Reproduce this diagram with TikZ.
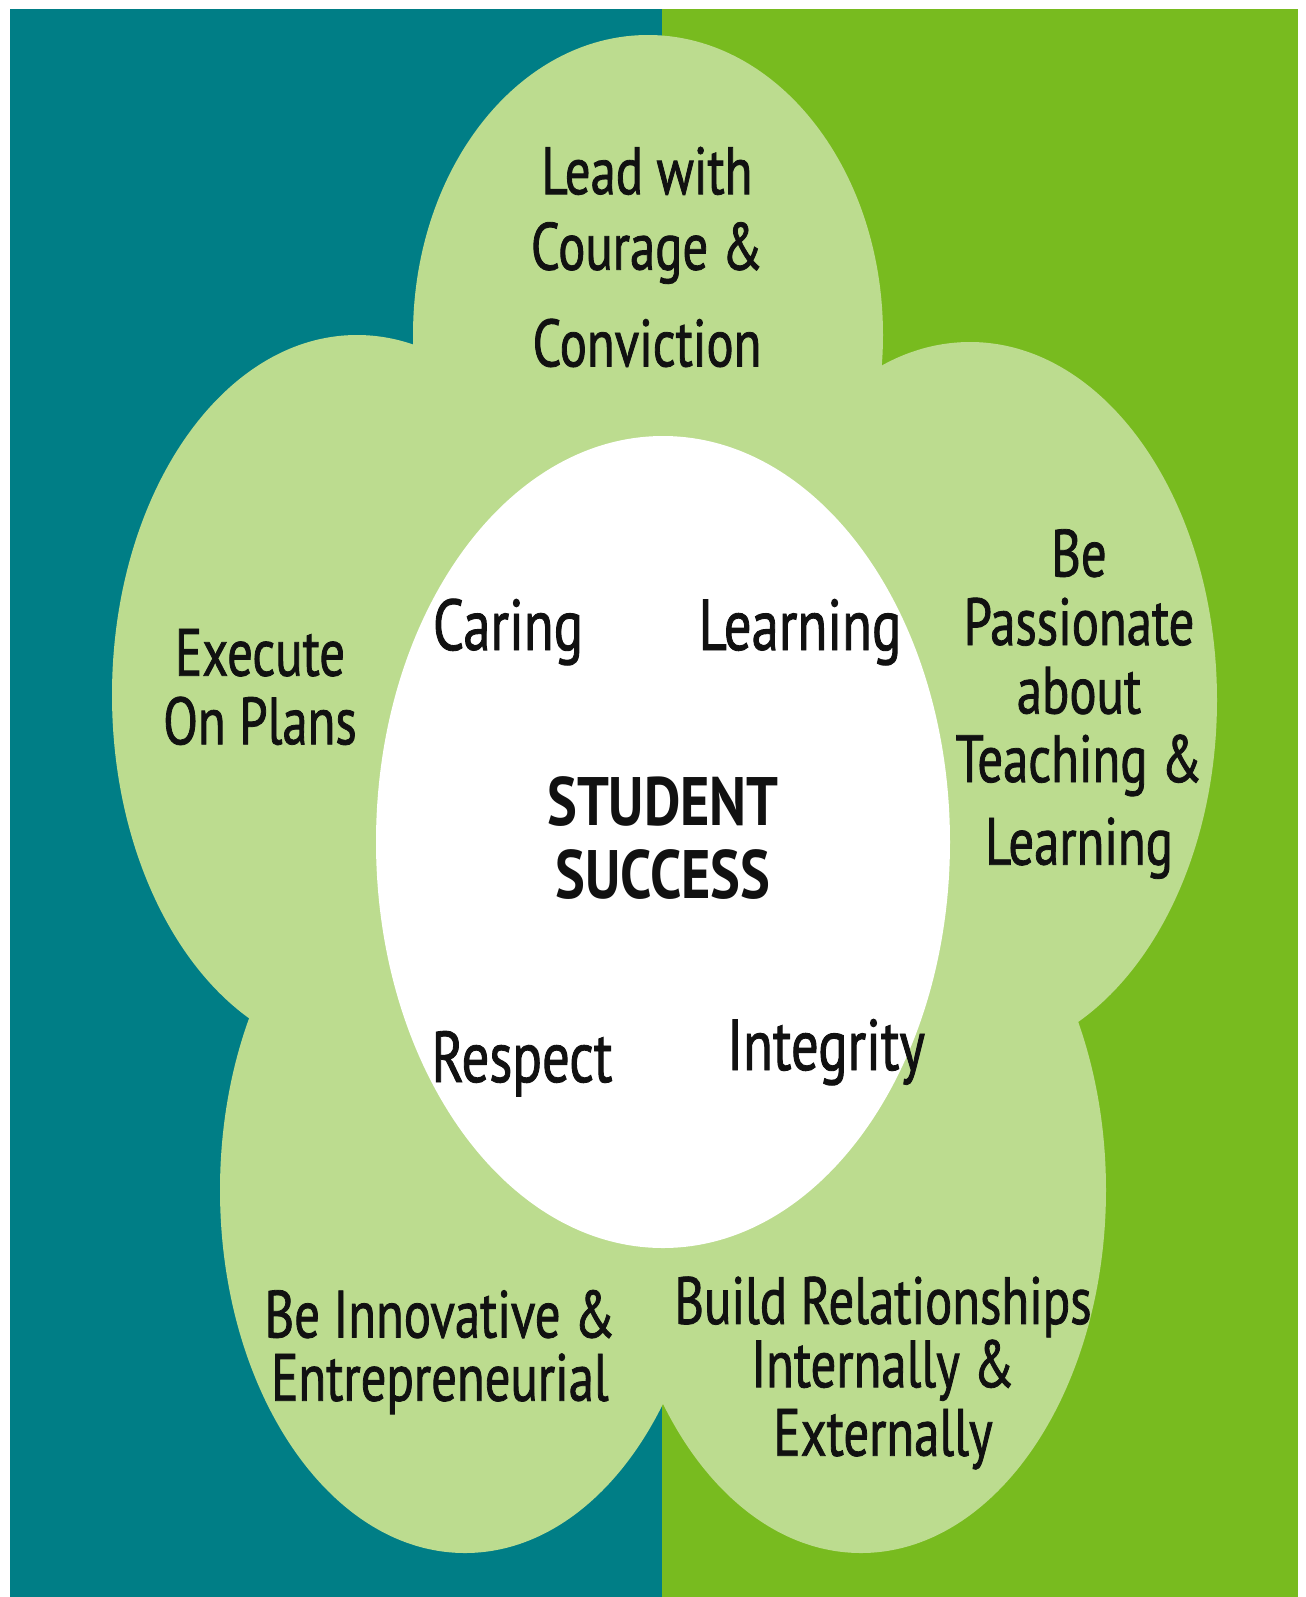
\documentclass[tikz,border=0pt]{standalone}
\usepackage{fontspec}
\usepackage{xcolor}
\newfontfamily\petalfont[FakeStretch=0.76, FakeBold=1.2]{PT Sans}
\newfontfamily\corefont[FakeStretch=0.82]{PT Sans Bold}
\definecolor{tealbg}{HTML}{007E86}
\definecolor{limebg}{HTML}{78BB1F}
\definecolor{petal}{HTML}{BCDC8F}
\definecolor{ink}{HTML}{111111}

\begin{document}
\begin{tikzpicture}[
    x=0.1mm, y=-0.1mm,
    petal/.style={fill=petal},
    petaltext/.style={font=\petalfont\fontsize{19}{19.5}\selectfont, align=center, inner sep=0pt, text=ink},
    coretext/.style={petaltext, font=\petalfont\fontsize{20.5}{21}\selectfont, anchor=base}
]
\useasboundingbox (0,0) rectangle (1306,1597);
\fill[white] (0,0) rectangle (1306,1597);

% Background halves
\fill[tealbg] (10,9) rectangle (662,1597);
\fill[limebg] (662,9) rectangle (1298,1597);

% Petals
\fill[petal] (648,335) ellipse [x radius=235, y radius=300];
\fill[petal] (970,700) ellipse [x radius=247, y radius=358];
\fill[petal] (861,1190) ellipse [x radius=245, y radius=363];
\fill[petal] (465,1190) ellipse [x radius=245, y radius=363];
\fill[petal] (357,695) ellipse [x radius=245, y radius=360];

% Centre
\fill[white] (663,842) ellipse [x radius=287, y radius=406];

% Petal labels
\node [petaltext] (lead) at (647,257) {Lead with\\[2pt] Courage \&\\[8pt] Conviction};
\node [petaltext] (passion) at (1079,704) {Be\\ Passionate\\ about\\ Teaching \&\\[4pt] Learning};
\node [petaltext] (build) at (883,1373) {Build Relationships\\[-1.5pt] Internally \&\\ Externally};
\node [petaltext] (innovate) at (440,1352) {Be Innovative \&\\[-1.5pt] Entrepreneurial};
\node [petaltext] (execute) at (260,687) {Execute\\ On Plans};

% Values round the centre
\node [coretext] (caring) at (508,650) {Caring};
\node [coretext] (learning) at (800,650) {Learning};
\node [coretext] (respect) at (522,1082) {Respect};
\node [coretext] (integrity) at (826,1070) {Integrity};
\node [petaltext, font=\corefont\fontsize{19.5}{20.5}\selectfont] (success) at (663,838) {STUDENT\\ SUCCESS};

\end{tikzpicture}
\end{document}
